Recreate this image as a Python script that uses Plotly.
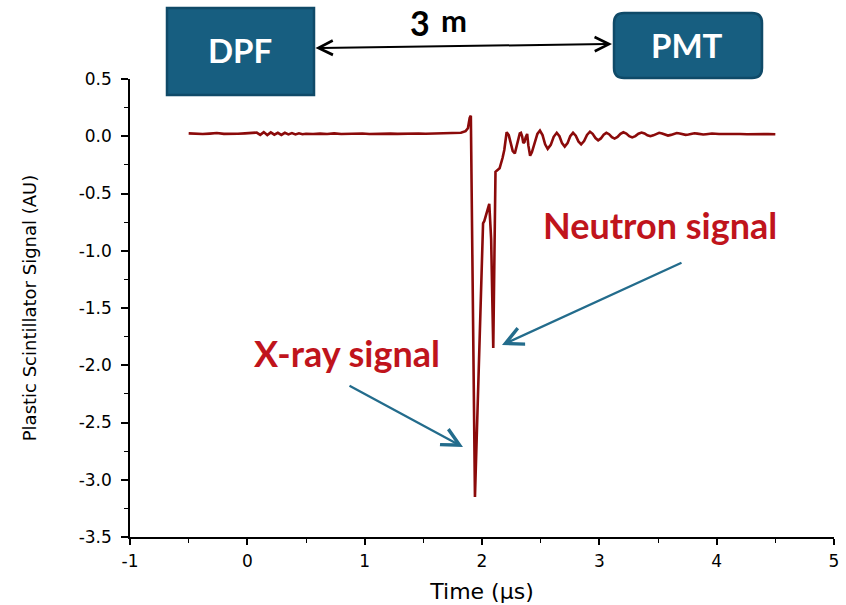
import plotly.graph_objects as go

# ---- data ----
time_us = [
    -0.50, -0.44, -0.38, -0.32, -0.26, -0.20, -0.14, -0.08, -0.02, 0.04,
    0.08, 0.11, 0.14, 0.17, 0.20, 0.23, 0.26, 0.29, 0.32, 0.35,
    0.38, 0.41, 0.44, 0.47, 0.50, 0.56, 0.62, 0.68, 0.74, 0.80,
    0.86, 0.92, 0.98, 1.04, 1.10, 1.16, 1.22, 1.28, 1.34, 1.40,
    1.46, 1.52, 1.58, 1.64, 1.70, 1.76, 1.82, 1.86, 1.88, 1.895,
    1.905, 1.94, 2.009, 2.02, 2.035, 2.048, 2.062, 2.078, 2.096, 2.115,
    2.15, 2.175, 2.19, 2.21, 2.228, 2.245, 2.262, 2.28, 2.295, 2.31,
    2.322, 2.332, 2.342, 2.352, 2.362, 2.372, 2.385, 2.395, 2.41, 2.425,
    2.45, 2.472, 2.494, 2.516, 2.538, 2.56, 2.586, 2.611, 2.637, 2.66,
    2.682, 2.705, 2.729, 2.752, 2.776, 2.799, 2.822, 2.845, 2.87, 2.895,
    2.92, 2.943, 2.967, 2.99, 3.013, 3.037, 3.06, 3.083, 3.107, 3.13,
    3.155, 3.18, 3.205, 3.23, 3.255, 3.28, 3.307, 3.333, 3.36, 3.385,
    3.41, 3.435, 3.46, 3.485, 3.51, 3.535, 3.56, 3.585, 3.61, 3.635,
    3.66, 3.685, 3.71, 3.735, 3.76, 3.785, 3.81, 3.835, 3.86, 3.885,
    3.91, 3.935, 3.96, 4.02, 4.08, 4.14, 4.20, 4.26, 4.32, 4.38,
    4.44, 4.50,
]
signal_au = [
    0.025, 0.022, 0.019, 0.023, 0.028, 0.021, 0.019, 0.022, 0.025, 0.026,
    0.032, 0.012, 0.036, 0.010, 0.034, 0.014, 0.030, 0.012, 0.030, 0.016,
    0.028, 0.016, 0.026, 0.018, 0.022, 0.019, 0.023, 0.020, 0.025, 0.019,
    0.022, 0.020, 0.024, 0.019, 0.022, 0.020, 0.023, 0.021, 0.023, 0.020,
    0.024, 0.022, 0.023, 0.021, 0.023, 0.025, 0.030, 0.045, 0.070, 0.160,
    0.180, -3.15, -0.76, -0.74, -0.68, -0.62, -0.59, -0.90, -1.85, -0.31,
    -0.28, -0.19, -0.12, 0.035, 0.010, -0.06, -0.13, -0.15, -0.09, -0.01,
    0.025, 0.030, 0.000, -0.06, -0.05, -0.01, 0.020, -0.08, -0.17, -0.14,
    -0.06, 0.020, 0.050, 0.010, -0.07, -0.11, -0.075, -0.005, 0.030, 0.000,
    -0.06, -0.09, -0.06, 0.000, 0.030, 0.005, -0.045, -0.07, -0.042, 0.012,
    0.040, 0.021, -0.016, -0.035, -0.019, 0.014, 0.030, 0.018, -0.008, -0.020,
    -0.006, 0.021, 0.035, 0.024, 0.001, -0.010, 0.001, 0.022, 0.032, 0.024,
    0.008, 0.000, 0.008, 0.022, 0.030, 0.024, 0.012, 0.006, 0.012, 0.022,
    0.028, 0.024, 0.016, 0.012, 0.016, 0.022, 0.026, 0.023, 0.018, 0.015,
    0.018, 0.021, 0.024, 0.019, 0.021, 0.018, 0.020, 0.018, 0.020, 0.017,
    0.019, 0.018,
]
x_ticks = [-1, 0, 1, 2, 3, 4, 5]
x_tick_text = ["-1", "0", "1", "2", "3", "4", "5"]
y_ticks = [0.5, 0.0, -0.5, -1.0, -1.5, -2.0, -2.5, -3.0, -3.5]
y_tick_text = ["0.5", "0.0", "-0.5", "-1.0", "-1.5", "-2.0", "-2.5", "-3.0", "-3.5"]

LINE_COLOR = "#8b0a0a"
BOX_FILL = "#175e80"
BOX_EDGE = "#0f4a68"
ARROW_BLUE = "#236c8c"
LABEL_RED = "#c0141c"

W, H = 846, 605
L, R, T, B = 130, 12, 79, 68
PW, PH = W - L - R, H - T - B


def px(x):
    return (x - L) / PW


def py(y):
    return (H - B - y) / PH


fig = go.Figure()
fig.add_trace(go.Scatter(x=time_us, y=signal_au, mode="lines",
                         line=dict(color=LINE_COLOR, width=2.6),
                         showlegend=False, hoverinfo="skip"))

SANS = "DejaVu Sans, Verdana, sans-serif"
axis_font = dict(family=SANS, size=17, color="black")
fig.update_xaxes(range=[-1, 5], tickvals=x_ticks, ticktext=x_tick_text,
                 ticks="outside", ticklen=6,
                 tickwidth=1.5, tickcolor="black", showline=True, linewidth=1.5,
                 linecolor="black", showgrid=False, zeroline=False,
                 tickfont=axis_font, ticklabelstandoff=2,
                 minor=dict(dtick=0.5, ticks="outside", ticklen=4, tickwidth=1.2,
                            tickcolor="black", showgrid=False),
                 title=dict(text="Time (μs)", standoff=13,
                            font=dict(family=SANS, size=22, color="black")))
fig.update_yaxes(range=[-3.5, 0.5], tickvals=y_ticks, ticktext=y_tick_text,
                 ticks="outside", ticklen=7, tickwidth=1.5, tickcolor="black",
                 showline=True, linewidth=1.5, linecolor="black",
                 showgrid=False, zeroline=False, tickfont=axis_font,
                 ticklabelstandoff=6,
                 minor=dict(dtick=0.25, ticks="outside", ticklen=4, tickwidth=1.2,
                            tickcolor="black", showgrid=False),
                 title=dict(text="Plastic Scintillator Signal (AU)", standoff=37,
                            font=dict(family=SANS, size=18, color="black")))

shapes = []
# DPF box
shapes.append(dict(type="rect", xref="paper", yref="paper",
                   x0=px(167), x1=px(314), y0=py(95), y1=py(8),
                   fillcolor=BOX_FILL, line=dict(color=BOX_EDGE, width=2.5),
                   layer="above"))
# PMT rounded box
x0, x1, y0, y1 = px(614), px(762), py(78), py(13)
rx, ry = 10 / PW, 10 / PH
path = (f"M{x0+rx},{y0} L{x1-rx},{y0} Q{x1},{y0} {x1},{y0+ry} "
        f"L{x1},{y1-ry} Q{x1},{y1} {x1-rx},{y1} L{x0+rx},{y1} "
        f"Q{x0},{y1} {x0},{y1-ry} L{x0},{y0+ry} Q{x0},{y0} {x0+rx},{y0} Z")
shapes.append(dict(type="path", xref="paper", yref="paper", path=path,
                   fillcolor=BOX_FILL, line=dict(color=BOX_EDGE, width=2.5),
                   layer="above"))
fig.update_layout(shapes=shapes)

BOLD = "Lato, Open Sans, sans-serif"


def label(xp, yp, text, size, color):
    return dict(xref="paper", yref="paper", x=px(xp), y=py(yp), text=text,
                showarrow=False, xanchor="center", yanchor="middle",
                font=dict(family=BOLD, size=size, color=color))


ann = [
    label(240, 50, "<b>DPF</b>", 33, "white"),
    label(687, 45, "<b>PMT</b>", 33, "white"),
    label(420, 23, "<b>3</b>", 34, "black"),
    label(454, 20, "<b>m</b>", 31, "black"),
    label(347, 353, "<b>X-ray signal</b>", 36, LABEL_RED),
    label(660, 225, "<b>Neutron signal</b>", 36, LABEL_RED),
]
# double arrow DPF <-> PMT
ann.append(dict(xref="paper", yref="paper", x=px(612), y=py(44), ax=-298, ay=4,
                text="", showarrow=True, arrowhead=5, startarrowhead=5,
                arrowside="end+start", arrowsize=1.4, startarrowsize=1.4,
                arrowwidth=2, arrowcolor="black", standoff=0, startstandoff=0))
# blue arrows
ann.append(dict(xref="paper", yref="paper", x=px(463), y=py(447), ax=-115, ay=-62,
                text="", showarrow=True, arrowhead=5, arrowsize=1.5,
                arrowwidth=2.3, arrowcolor=ARROW_BLUE, standoff=0))
ann.append(dict(xref="paper", yref="paper", x=px(502), y=py(345), ax=181, ay=-83,
                text="", showarrow=True, arrowhead=5, arrowsize=1.5,
                arrowwidth=2.3, arrowcolor=ARROW_BLUE, standoff=0))
fig.update_layout(annotations=ann)

fig.update_layout(width=W, height=H, margin=dict(l=L, r=R, t=T, b=B, autoexpand=False),
                  paper_bgcolor="white", plot_bgcolor="white")

fig.write_html("out.html")
